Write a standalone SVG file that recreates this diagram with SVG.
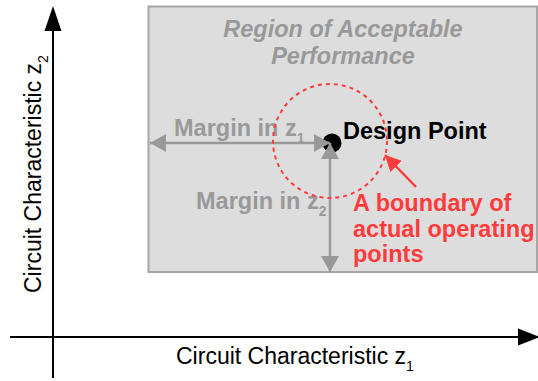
<svg xmlns="http://www.w3.org/2000/svg" width="538" height="381" viewBox="0 0 538 381">
<style>
text{font-family:"Liberation Sans",Arial,sans-serif;}
.ax{stroke:#000;stroke-width:2;fill:none;}
.gl{stroke:#999;stroke-width:2.5;fill:none;}
.lbl{font-size:23px;fill:#000;}
.b{font-weight:bold;font-size:23.5px;}
.gt{fill:#999;}
.rt{fill:#ff3b3b;}
.sub{font-size:14px;font-weight:normal;}
.gt .sub{font-weight:bold;}
</style>
<defs>
<marker id="ga" viewBox="0 0 16 18" refX="16" refY="9" markerWidth="16" markerHeight="18" markerUnits="userSpaceOnUse" orient="auto-start-reverse"><path d="M0,0 L16,9 L0,18 Z" fill="#999"/></marker>
<marker id="ra" viewBox="0 0 16 16" refX="16" refY="8" markerWidth="16" markerHeight="16" markerUnits="userSpaceOnUse" orient="auto"><path d="M0,0 L16,8 L0,16 Z" fill="#ff3b3b"/></marker>
</defs>
<g id="region">
<rect x="148.5" y="6.5" width="388.5" height="265.5" fill="#dddddd" stroke="#a6a6a6" stroke-width="2"/>
<text class="b gt" font-style="italic" text-anchor="middle" x="343" y="37">Region of Acceptable</text>
<text class="b gt" font-style="italic" text-anchor="middle" x="343" y="64">Performance</text>
</g>
<g id="design-point">
<circle cx="332" cy="143" r="9.5" fill="#000"/>
<text class="lbl b" x="343" y="139">Design Point</text>
</g>
<g id="margin-z1">
<text class="lbl b gt" x="174" y="136">Margin in z<tspan class="sub" dy="7">1</tspan></text>
</g>
<g id="margin-z2">
<text class="lbl b gt" x="196" y="209">Margin in z<tspan class="sub" dy="7">2</tspan></text>
</g>
<g id="boundary-label">
<text class="lbl b rt" x="353" y="211">A boundary of</text>
<text class="lbl b rt" x="353" y="237">actual operating</text>
<text class="lbl b rt" x="353" y="262">points</text>
</g>
<g id="axis-labels">
<text class="lbl" x="176" y="364" font-size="23.3">Circuit Characteristic z<tspan class="sub" dy="7">1</tspan></text>
<text class="lbl" transform="translate(40.5,293) rotate(-90)">Circuit Characteristic z<tspan class="sub" dy="7">2</tspan></text>
</g>
<g id="connectors">
<line class="ax" x1="53" y1="378" x2="53" y2="28"/>
<polygon points="53,6 44.5,31 61.5,31" fill="#000"/>
<line class="ax" x1="10" y1="337" x2="518" y2="337"/>
<polygon points="540,337 518,328.5 518,345.5" fill="#000"/>
<line class="gl" x1="150" y1="143" x2="330" y2="143" marker-start="url(#ga)" marker-end="url(#ga)"/>
<line class="gl" x1="330" y1="143" x2="330" y2="272" marker-start="url(#ga)" marker-end="url(#ga)"/>
<line stroke="#ff3b3b" stroke-width="2.5" x1="416" y1="187" x2="385" y2="155" marker-end="url(#ra)"/>
</g>
<g id="boundary">
<circle cx="330" cy="141" r="57" fill="none" stroke="#ff3b3b" stroke-width="2" stroke-dasharray="4,4"/>
</g>
</svg>
